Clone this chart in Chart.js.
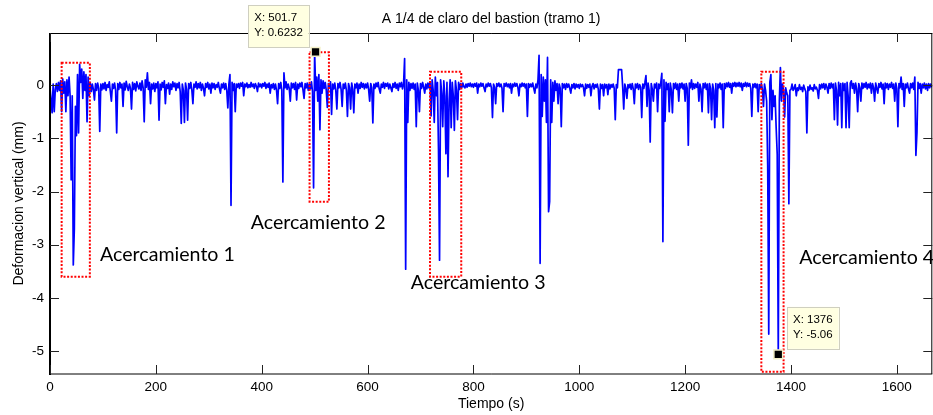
<!DOCTYPE html>
<html><head><meta charset="utf-8">
<script src="https://cdn.jsdelivr.net/npm/chart.js@4"></script>
<style>html,body{margin:0;padding:0;background:#fff;overflow:hidden;width:933px;height:415px}canvas{display:block}</style>
</head><body><canvas id="c" width="940" height="415"></canvas>
<script>
const titulo = 'A 1/4 de claro del bastion (tramo 1)';
const ejeXTitulo = 'Tiempo (s)';
const ejeYTitulo = 'Deformacion vertical (mm)';
const pasoTiempo = 2; // s between samples, starting at 0 s
const deformacion = [
// 0-48 s
-.05,-.27,-.52,.02,-.5, -.08,.03,-.12,.05,-.1, .08,-.5,.12,-.15,.06, -.5,.1,-.2,.15,-.2, -1.78,-.2,-3.38,-2.7,-.4,
// 50-98
-.95,.2,-.9,.39,.05, .3,-.25,.25,-.1,.2, -.69,.15,-.2,.05,-.12, .02,-.08,-.28,.03,-.1, .04,-.06,-.87,.02,-.09,
// 100-148
.03,-.07,.05,-.1,.01, -.04,.06,-.12,-.3,.02, -.06,.04,-.1,-.9,.03, -.08,.05,-.05,.02,-.4, .04,-.09,.07,-.03,-.1,
// 150-198
.02,-.06,-.45,.05,-.08, .03,-.11,.06,-.02,-.07, .04,-.1,.08,-.05,-.69, .1,-.04,.23,-.08,.05, -.35,.02,-.07,.04,-.12,
// 200-248
.03,-.05,.06,-.66,.02, -.09,.05,-.04,.08,-.35, .01,-.06,.04,-.17,.02, -.08,.06,-.03,.04,-.1, .03,-.05,.05,-.12,-.72,
// 250-298
.02,-.1,-.7,.04,-.08, -.66,.03,-.06,.05,-.09, -.35,.02,-.04,.06,-.07, .03,-.05,.05,-.1,.02, -.06,-.2,.03,-.04,.05,
// 300-348
-.07,.02,-.15,.04,-.05, .03,-.08,.01,-.04,.05, -.06,-.15,.02,-.05,.04, -.08,.03,-.1,-.43,.02, .2,-2.26,.05,-.1,.03,
// 350-398
-.5,.02,-.04,.03,-.06, .04,-.02,.05,-.2,.02, -.03,.04,-.05,.01,-.04, .05,-.03,.02,-.06,.03, -.02,-.12,.04,-.03,.02,
// 400-448
-.05,.03,-.02,.05,-.06, .02,-.04,.04,-.15,.01, -.05,.03,-.08,.02,-.1, -.35,.03,-.06,.05,-.1, -1.82,.23,-.05,.06,-.08,
// 450-498
.02,-.06,-.3,.04,-.05, .03,-.08,.05,-.28,.02, -.06,.04,-.03,.05,-.09, -.25,.03,-.05,.04,-.1, .02,-.07,.06,-.12,-1.93,
// 500-548
.62,-.1,.15,-.3,.2, -.84,.1,-.15,.08,-.06, .05,-.1,-.42,.03,-.05, .06,-.55,.02,-.07,.04, -.1,-.45,.03,-.05,.05,
// 550-598
-.08,-.4,.02,-.06,.04, -.1,-.59,.03,-.05,-.45, .04,-.08,-.52,.02,-.05, .04,-.15,.02,-.06,.05, -.04,.03,-.07,.02,-.05,
// 600-648
.04,-.08,-.3,.03,-.05, -.71,.02,-.06,.04,-.03, .05,-.07,-.15,.02,-.04, .05,-.06,.03,-.02,.04, -.07,.02,-.05,-.12,.03,
// 650-698
-.04,.05,-.06,.02,-.1, .04,-.03,.05,-.07,.02, .5,-3.46,.1,-.7,.05, -.1,.03,-.06,.04,-.08, .02,-.78,.04,-.1,-.5,
// 700-748
.03,-.06,.05,-.04,-.15, .02,-.07,.04,-.05,.06, -.58,.1,-.1,-.7,.15, -.2,.05,-1.2,-3.29,.1, -.15,-.78,.08,-.2,-1.29,
// 750-798
.05,-1.72,-.3,.1,-.8, .05,-.2,-.85,.08,-.1, -.65,.05,-.08,.03,-.05, .04,-.03,-.05,.02,-.04, .03,-.02,.04,-.03,.02,
// 800-848
-.04,.03,-.02,.04,-.15, .02,-.03,.04,-.02,.03, -.05,-.12,.02,-.03,.04, -.02,.03,-.05,-.61,.02, -.04,-.35,.03,-.02,.04,
// 850-898
-.03,.02,-.06,-.5,.03, -.02,.04,-.03,.02,-.05, .03,-.15,.02,-.03,.04, -.02,.03,-.04,-.2,.02, -.03,.04,-.02,.03,-.05,
// 900-948
.02,-.59,.03,-.04,.02, -.03,.04,-.06,-.15,.02, -.05,.1,.56,-3.35,.2, -.59,.15,-.3,.1,-.7, .52,-2.38,-2.19,.1,-.7,
// 950-998
.05,-.3,.08,-.1,.03, -.35,.02,-.06,-.78,.03, -.05,.02,-.08,.03,-.04, .02,-.06,-.15,.01,-.05, .03,-.07,.02,-.04,.01,
// 1000-1048
-.06,.02,-.03,.01,-.05, -.2,.02,-.06,.01,-.04, .02,-.2,-.02,.03,-.07, .01,-.04,.02,-.08,-.45, .02,-.06,.01,-.2,.02,
// 1050-1098
-.05,.01,-.18,.02,-.07, .01,-.04,.02,-.06,-.65, .01,-.05,.29,.29,.29, .29,-.03,-.45,.02,-.06, -.25,.01,-.05,.02,-.08,
// 1100-1148
.03,-.07,-.35,.02,-.05, .03,-.08,.01,-.04,-.61, .02,-.06,.05,.18,-.4, .04,-.1,-1.07,.03,-.08, -.3,.02,-.05,.04,-.5,
// 1150-1198
.02,-.06,.05,.22,-2.94, .1,-.68,.05,-.08,.03, -.5,.04,-.1,-.52,.03, -.06,.04,-.08,.02,-.3, .03,-.05,.04,-.07,.02,
// 1200-1248
-.3,.03,-.06,-1.13,.04, -.05,.1,-.08,.03,-.06, .02,-.04,.05,-.3,.02, -.07,-.5,.03,-.05,.04, -.08,.02,-.52,.03,-.06,
// 1250-1298
-.65,.02,-.1,-.8,.03, -.6,.02,-.05,.04,-.08, .02,-.8,.03,-.06,.04, -.03,.05,-.04,.03,-.15, .04,-.02,.05,-.03,.04,
// 1300-1348
-.02,.05,-.03,.04,-.1, .03,-.02,.05,-.03,.04, -.02,.03,-.06,-.59,.02, -.04,.03,-.05,.02,-.5, .01,-.06,.03,-.08,-.4,
// 1350-1398
.02,-.1,-.3,-1.5,-4.68, .05,.2,-.65,-.1,-.4, -.2,-.8,-1.3,-5.06,-.3, .33,-.3,.02,-.1,-.6, -.05,-.15,-.2,-2.23,-.1,
// 1400-1448
-.08,.02,-.1,-.06,.01, -.2,-.05,-.1,.01,-.08, -.04,-.12,0,-.07,-.12, -.9,-.03,-.1,0,-.08, -.05,-.11,.01,-.07,-.04,
// 1450-1498
-.1,-.25,.01,-.07,.02, -.05,.03,-.08,.02,-.04, -.15,.03,-.06,.04,-.05, .02,-.65,.04,-.1,-.75, .05,-.2,.03,-.8,.04,
// 1500-1548
-.1,.03,-.8,.05,-.2, -.8,.04,.08,-.06,.03, -.15,.04,-.07,-.5,.03, -.05,-.3,.04,-.06,.03, -.04,.05,-.07,.02,-.05,
// 1550-1598
.04,-.15,.03,-.05,-.3, .04,-.06,-.15,.03,-.04, .05,-.07,.02,-.35,.04, -.05,.03,-.08,.02,-.04, .05,-.06,.02,-.3,.04,
// 1600-1648
-.06,-.78,.03,-.05,.15, -.08,.03,-.4,.02,-.05, .04,-.07,-.15,.03,-.05, .04,-.08,.15,-1.32,-.9, .05,-.06,.03,-.15,.02,
// 1650-1666
-.05,.04,-.07,.02,-.1, .03,-.05,.02,-.04
];
const xTicks = [0, 200, 400, 600, 800, 1000, 1200, 1400, 1600];
const yTicks = [-5, -4, -3, -2, -1, 0];
const tipX = [501.7, 1376];
const tipY = [0.6232, -5.06];
const tipLabelX = ['501.7', '1376'];
const tipLabelY = ['0.6232', '-5.06'];
const acercamientos = ['Acercamiento 1', 'Acercamiento 2', 'Acercamiento 3', 'Acercamiento 4'];

// zoom boxes in data units (time s, deformation mm) and label anchors (px)
const zonas = [
  {t0: 22, t1: 75.3, top: 0.42, bottom: -3.6},
  {t0: 490.4, t1: 527, top: 0.618, bottom: -2.19},
  {t0: 718, t1: 777, top: 0.25, bottom: -3.6},
  {t0: 1344, t1: 1386, top: 0.25, bottom: -5.39}
];
const etiquetasPos = [[100, 261], [250.7, 229], [410.7, 289], [799.3, 264]];
const tipOffsets = [{dx: -69.5, dy: -47, side: 'left'}, {dx: 8.7, dy: -47.5, side: 'right'}];

const puntos = deformacion.map((v, i) => ({x: i * pasoTiempo, y: v}));
const marcadores = tipX.map((t, i) => ({x: t, y: tipY[i]}));

const FONT = '"Liberation Sans", Arial, Helvetica, sans-serif';
const CAL = 'Lato, "Open Sans", sans-serif';

const matlabPlugin = {
  id: 'matlab',
  afterDatasetDraw(chart, args) {
    if (args.index !== 0) return;
    const {ctx, scales: {x, y}} = chart;
    ctx.save();
    ctx.strokeStyle = '#ff0000';
    ctx.lineWidth = 2;
    ctx.setLineDash([2, 1.6]);
    for (const z of zonas) {
      const x0 = x.getPixelForValue(z.t0), x1 = x.getPixelForValue(z.t1);
      const y0 = y.getPixelForValue(z.top), y1 = y.getPixelForValue(z.bottom);
      ctx.strokeRect(x0, y0, x1 - x0, y1 - y0);
    }
    ctx.setLineDash([]);
    ctx.font = '20px ' + CAL;
    const w = ctx.measureText(acercamientos[0]).width;
    const fs = 20 * 135 / w;
    ctx.font = fs.toFixed(2) + 'px ' + CAL;
    ctx.fillStyle = '#000';
    ctx.textBaseline = 'alphabetic';
    ctx.textAlign = 'left';
    acercamientos.forEach((s, i) => ctx.fillText(s, etiquetasPos[i][0], etiquetasPos[i][1]));
    ctx.restore();
  },
  afterDraw(chart) {
    const {ctx, chartArea: a, scales: {x, y}} = chart;
    ctx.save();
    // axes box
    ctx.strokeStyle = '#000';
    ctx.lineWidth = 1;
    ctx.beginPath();
    ctx.moveTo(a.left, a.top + 0.5); ctx.lineTo(a.right, a.top + 0.5);
    ctx.moveTo(a.left, a.bottom); ctx.lineTo(a.right, a.bottom);
    ctx.moveTo(a.right - 0.5, a.top); ctx.lineTo(a.right - 0.5, a.bottom);
    ctx.stroke();
    ctx.lineWidth = 2;
    ctx.beginPath();
    ctx.moveTo(a.left, a.top); ctx.lineTo(a.left, a.bottom + 1);
    ctx.stroke();
    // inward ticks
    ctx.lineWidth = 1;
    ctx.strokeStyle = '#222';
    ctx.beginPath();
    const L = 9;
    for (const t of xTicks) {
      const px = Math.round(x.getPixelForValue(t)) + 0.5;
      ctx.moveTo(px, a.bottom); ctx.lineTo(px, a.bottom - L);
      ctx.moveTo(px, a.top); ctx.lineTo(px, a.top + L);
    }
    for (const t of yTicks) {
      const py = Math.round(y.getPixelForValue(t)) + 0.5;
      ctx.moveTo(a.left, py); ctx.lineTo(a.left + L, py);
      ctx.moveTo(a.right, py); ctx.lineTo(a.right - L, py);
    }
    ctx.stroke();
    // titles
    ctx.fillStyle = '#000';
    ctx.font = '14px ' + FONT;
    ctx.textAlign = 'center';
    ctx.textBaseline = 'alphabetic';
    const cx = (a.left + a.right) / 2;
    ctx.fillText(titulo, cx, a.top - 10.5);
    ctx.fillText(ejeXTitulo, cx, 408.3);
    ctx.save();
    ctx.translate(23.3, (a.top + a.bottom) / 2);
    ctx.rotate(-Math.PI / 2);
    ctx.fillText(ejeYTitulo, 0, 0);
    ctx.restore();
    // data tips
    ctx.font = '11.5px ' + FONT;
    ctx.textAlign = 'left';
    tipX.forEach((t, i) => {
      const px = x.getPixelForValue(t), py = y.getPixelForValue(tipY[i]);
      const l1 = 'X: ' + tipLabelX[i], l2 = 'Y: ' + tipLabelY[i];
      const bw = Math.max(ctx.measureText(l1).width, ctx.measureText(l2).width) + 12;
      const bh = 42;
      const o = tipOffsets[i];
      const bx = o.side === 'left' ? px - 6.7 - bw : px + o.dx;
      const by = py + o.dy;
      ctx.fillStyle = '#ffffe1';
      ctx.fillRect(bx, by, bw, bh);
      ctx.strokeStyle = '#cfcfc0';
      ctx.lineWidth = 1;
      ctx.strokeRect(Math.round(bx) + 0.5, Math.round(by) + 0.5, Math.round(bw), bh);
      ctx.fillStyle = '#000';
      ctx.fillText(l1, bx + 6, by + 16);
      ctx.fillText(l2, bx + 6, by + 31.5);
    });
    ctx.restore();
  }
};

new Chart(document.getElementById('c'), {
  type: 'line',
  data: {
    datasets: [
      {data: puntos, borderColor: '#0000ff', borderWidth: 1.7, pointRadius: 0, tension: 0,
       borderJoinStyle: 'round', fill: false, order: 1},
      {data: marcadores, showLine: false, pointStyle: 'rect', pointRadius: 6.2,
       backgroundColor: '#000', borderColor: '#f4f0c8', borderWidth: 1.5, order: 0, clip: false}
    ]
  },
  options: {
    responsive: false,
    animation: false,
    devicePixelRatio: 1,
    parsing: true,
    layout: {padding: {left: 0, top: 33, right: 4, bottom: 0}},
    plugins: {legend: {display: false}, title: {display: false}, tooltip: {enabled: false}},
    scales: {
      x: {
        type: 'linear', min: 0, max: 1667,
        grid: {display: false, drawTicks: false},
        border: {display: false},
        ticks: {font: {family: FONT, size: 13.5}, color: '#000', padding: 5, maxRotation: 0,
                callback: v => String(v)},
        afterBuildTicks: s => { s.ticks = xTicks.map(v => ({value: v})); },
        afterFit: s => { s.height = 41; s.paddingLeft = 0; s.paddingRight = 0; }
      },
      y: {
        type: 'linear', min: -5.43, max: 0.98,
        grid: {display: false, drawTicks: false},
        border: {display: false},
        ticks: {font: {family: FONT, size: 13.5}, color: '#000', padding: 6,
                callback: v => String(v)},
        afterBuildTicks: s => { s.ticks = yTicks.map(v => ({value: v})); },
        afterFit: s => { s.width = 50; s.paddingTop = 0; s.paddingBottom = 0; }
      }
    }
  },
  plugins: [matlabPlugin]
});
</script>
</body></html>
